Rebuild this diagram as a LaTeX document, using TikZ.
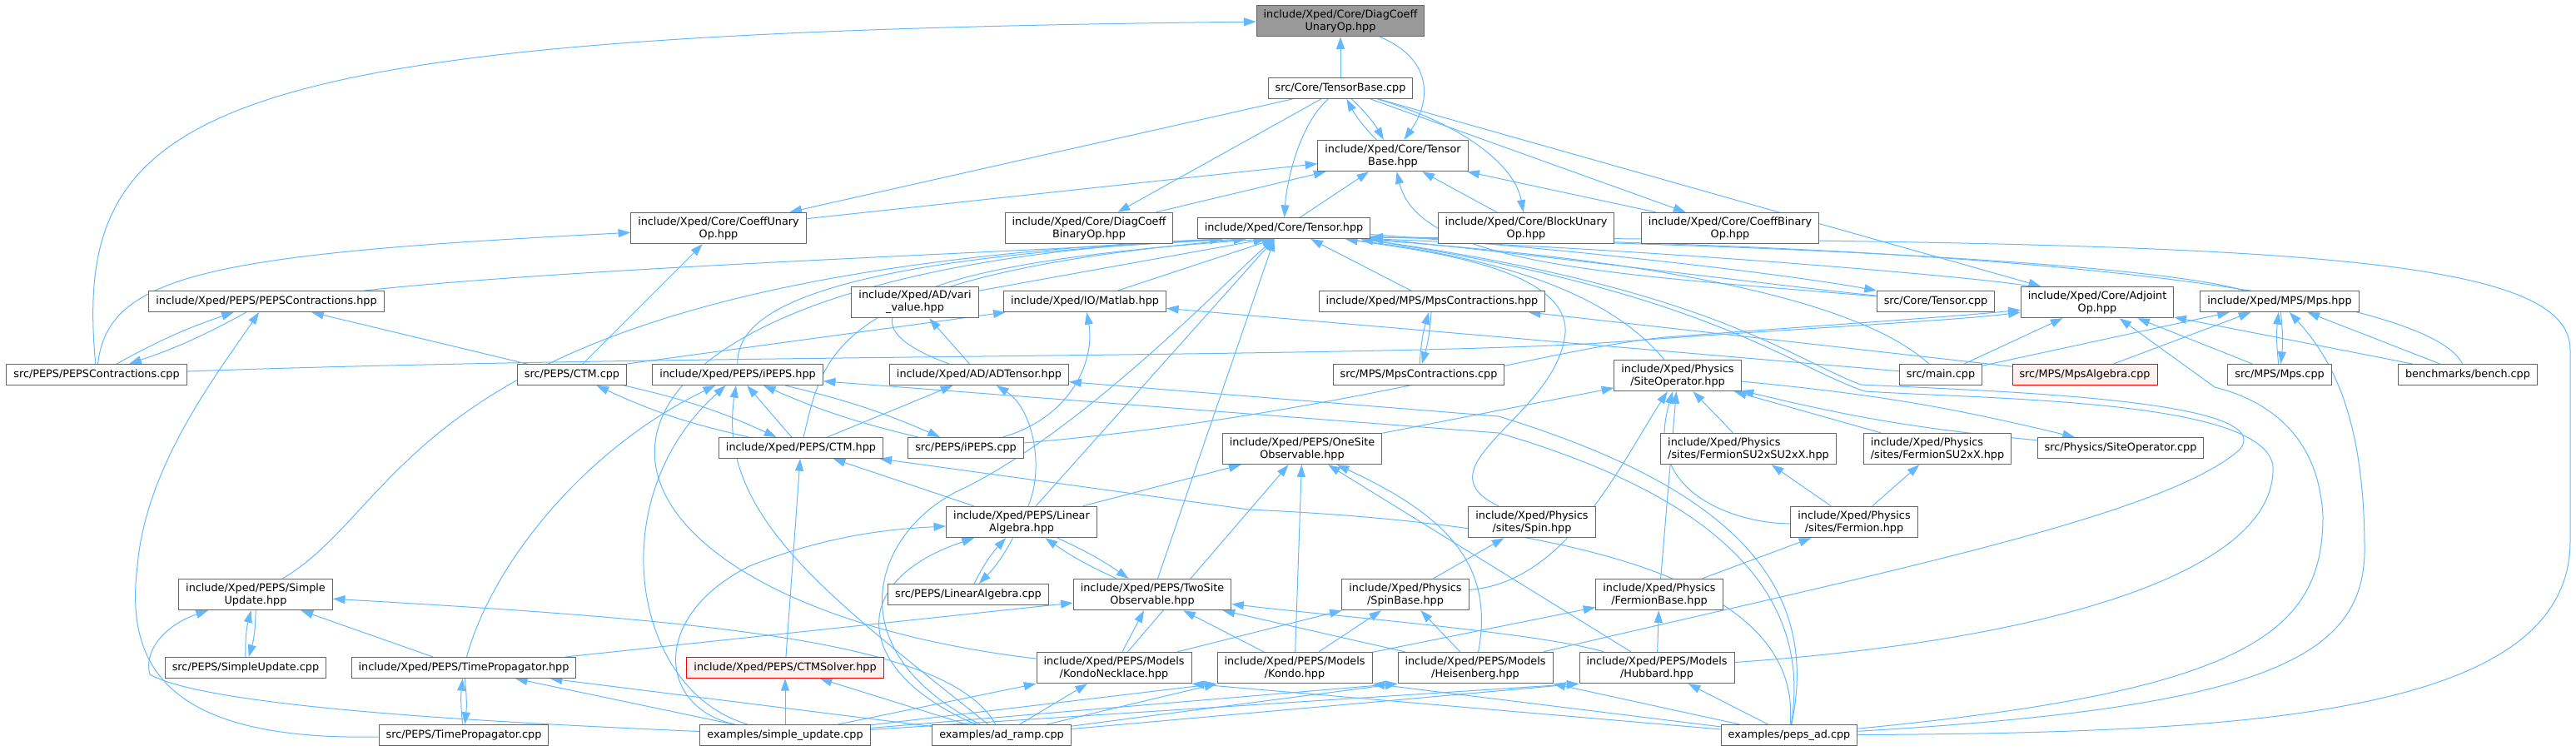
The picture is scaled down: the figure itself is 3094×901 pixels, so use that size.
\documentclass[tikz,border=0pt]{standalone}
\usepackage{fontspec}
\setmainfont{DejaVu Sans}
\usetikzlibrary{arrows.meta}
\definecolor{edgeblue}{HTML}{63B8FF}
\definecolor{boxline}{HTML}{666666}
\definecolor{rootgray}{HTML}{999999}
\definecolor{redline}{HTML}{FF0000}
\definecolor{redfill}{HTML}{FFF0F0}
\pgfdeclarelayer{bg}
\pgfsetlayers{bg,main}

\begin{document}
\begin{tikzpicture}[x=0.75pt, y=-0.75pt,
    filebox/.style={draw=boxline, fill=white, line width=0.75pt, inner xsep=6.4pt, inner ysep=3.75pt,
        minimum height=18.75pt, align=center, font=\fontsize{9.6}{11.25}\selectfont},
    rootbox/.style={filebox, fill=rootgray},
    redbox/.style={filebox, draw=redline, fill=redfill},
    incl/.style={draw=edgeblue, line width=0.75pt, -{Triangle[length=11pt,width=7.5pt]}}]
    \useasboundingbox (0,0) rectangle (3094,901);

    % Core
    \node[rootbox] (root) at (1610,25) {include/Xped/Core/DiagCoeff\\UnaryOp.hpp};
    \node[filebox] (tbcpp) at (1610,106) {src/Core/TensorBase.cpp};
    \node[filebox] (tbhpp) at (1673,187) {include/Xped/Core/Tensor\\Base.hpp};
    \node[filebox] (tensor) at (1542,274) {include/Xped/Core/Tensor.hpp};
    \node[filebox] (cuop) at (863,274) {include/Xped/Core/CoeffUnary\\Op.hpp};
    \node[filebox] (dcbop) at (1308,274) {include/Xped/Core/DiagCoeff\\BinaryOp.hpp};
    \node[filebox] (buop) at (1833,274) {include/Xped/Core/BlockUnary\\Op.hpp};
    \node[filebox] (cbop) at (2078,274) {include/Xped/Core/CoeffBinary\\Op.hpp};
    \node[filebox] (tensorCpp) at (2325,362) {src/Core/Tensor.cpp};
    \node[filebox] (adjoint) at (2519,363) {include/Xped/Core/Adjoint\\Op.hpp};

    % PEPS, AD and IO
    \node[filebox] (pcHpp) at (320,362) {include/Xped/PEPS/PEPSContractions.hpp};
    \node[filebox] (pcCpp) at (116,450) {src/PEPS/PEPSContractions.cpp};
    \node[filebox] (ctmCpp) at (687,450) {src/PEPS/CTM.cpp};
    \node[filebox] (vari) at (1099,363) {include/Xped/AD/vari\\\_value.hpp};
    \node[filebox] (matlab) at (1303,362) {include/Xped/IO/Matlab.hpp};
    \node[filebox] (ipepsHpp) at (886,450) {include/Xped/PEPS/iPEPS.hpp};
    \node[filebox] (adtensor) at (1176,450) {include/Xped/AD/ADTensor.hpp};
    \node[filebox] (ctmHpp) at (962,538) {include/Xped/PEPS/CTM.hpp};
    \node[filebox] (ipepsCpp) at (1160,538) {src/PEPS/iPEPS.cpp};
    \node[filebox] (onesite) at (1564,539) {include/Xped/PEPS/OneSite\\Observable.hpp};
    \node[filebox] (linalg) at (1227,627) {include/Xped/PEPS/Linear\\Algebra.hpp};
    \node[filebox] (linalgCpp) at (1163,714) {src/PEPS/LinearAlgebra.cpp};
    \node[filebox] (twosite) at (1384,714) {include/Xped/PEPS/TwoSite\\Observable.hpp};
    \node[filebox] (suHpp) at (307,714) {include/Xped/PEPS/Simple\\Update.hpp};
    \node[filebox] (suCpp) at (295,802) {src/PEPS/SimpleUpdate.cpp};
    \node[filebox] (tpHpp) at (557,802) {include/Xped/PEPS/TimePropagator.hpp};
    \node[filebox] (tpCpp) at (557,883) {src/PEPS/TimePropagator.cpp};
    \node[redbox] (ctmsolver) at (943,802) {include/Xped/PEPS/CTMSolver.hpp};

    % MPS
    \node[filebox] (mpscHpp) at (1720,362) {include/Xped/MPS/MpsContractions.hpp};
    \node[filebox] (mpscCpp) at (1704,450) {src/MPS/MpsContractions.cpp};
    \node[filebox] (mpsHpp) at (2738,362) {include/Xped/MPS/Mps.hpp};
    \node[filebox] (main) at (2331,450) {src/main.cpp};
    \node[redbox] (mpsalg) at (2504,450) {src/MPS/MpsAlgebra.cpp};
    \node[filebox] (mpsCpp) at (2738,450) {src/MPS/Mps.cpp};
    \node[filebox] (bench) at (2964,450) {benchmarks/bench.cpp};

    % Physics
    \node[filebox] (siteop) at (2015,451) {include/Xped/Physics\\/SiteOperator.hpp};
    \node[filebox, align=left] (fsu2su2) at (2100,539) {include/Xped/Physics\\/sites/FermionSU2xSU2xX.hpp};
    \node[filebox, align=left] (fsu2) at (2327,539) {include/Xped/Physics\\/sites/FermionSU2xX.hpp};
    \node[filebox] (siteopCpp) at (2547,538) {src/Physics/SiteOperator.cpp};
    \node[filebox] (spin) at (1840,627) {include/Xped/Physics\\/sites/Spin.hpp};
    \node[filebox] (fermion) at (2227,627) {include/Xped/Physics\\/sites/Fermion.hpp};
    \node[filebox] (spinbase) at (1688,714) {include/Xped/Physics\\/SpinBase.hpp};
    \node[filebox] (fermbase) at (1993,714) {include/Xped/Physics\\/FermionBase.hpp};

    % Models and examples
    \node[filebox] (kondoN) at (1338,802) {include/Xped/PEPS/Models\\/KondoNecklace.hpp};
    \node[filebox] (kondo) at (1555,802) {include/Xped/PEPS/Models\\/Kondo.hpp};
    \node[filebox] (heis) at (1772,802) {include/Xped/PEPS/Models\\/Heisenberg.hpp};
    \node[filebox] (hubbard) at (1990,802) {include/Xped/PEPS/Models\\/Hubbard.hpp};
    \node[filebox] (exSU) at (943,883) {examples/simple\_update.cpp};
    \node[filebox] (exAD) at (1203,883) {examples/ad\_ramp.cpp};
    \node[filebox] (exPA) at (2149,883) {examples/peps\_ad.cpp};

    \begin{pgfonlayer}{bg}
    % TensorBase
    \draw[incl] (tbcpp) -- (root);
    \draw[incl] (root) .. controls (1720,70) and (1720,120) .. (tbhpp);
    \draw[incl] (pcCpp) .. controls (85,120) and (250,40) .. (root);
    \draw[incl] (tbcpp) to[bend left=8] (tbhpp);
    \draw[incl] (tbhpp) to[bend left=8] (tbcpp);
    \draw[incl] (tbcpp) -- (cuop);
    \draw[incl] (tbcpp) -- (dcbop);
    \draw[incl] (tbcpp) .. controls (1560,150) and (1545,220) .. (tensor);
    \draw[incl] (tbcpp) .. controls (1760,150) and (1820,200) .. (buop);
    \draw[incl] (tbcpp) -- (cbop);
    \draw[incl] (tbcpp) -- (adjoint);
    \draw[incl] (cuop) -- (tbhpp);
    \draw[incl] (dcbop) -- (tbhpp);
    \draw[incl] (tensor) -- (tbhpp);
    \draw[incl] (buop) -- (tbhpp);
    \draw[incl] (cbop) -- (tbhpp);
    \draw[incl] (tensorCpp) .. controls (1950,330) and (1705,320) .. (tbhpp);
    \draw[incl] (pcCpp) .. controls (130,330) and (250,305) .. (cuop);
    \draw[incl] (ctmCpp) -- (cuop);

    % Tensor, entered at its lower edge
    \draw[incl] (tensor) .. controls (1900,300) and (2150,330) .. (tensorCpp);
    \draw[incl] (tensorCpp) .. controls (2150,345) and (1800,300) .. (tensor.-7.3);
    \draw[incl] (pcHpp) .. controls (700,320) and (1300,300) .. (tensor.-170);
    \draw[incl] (suHpp) .. controls (500,600) and (490,330) .. (tensor.-170);
    \draw[incl] (kondoN) .. controls (640,720) and (560,330) .. (tensor.-170);
    \draw[incl] (ipepsHpp) .. controls (885,380) and (960,310) .. (tensor.-164.1);
    \draw[incl] (ctmHpp) .. controls (990,420) and (1000,330) .. (tensor.-164.1);
    \draw[incl] (adtensor) .. controls (1010,390) and (1030,320) .. (tensor.-149.2);
    \draw[incl] (vari) -- (tensor.-149.2);
    \draw[incl] (matlab) -- (tensor.-131.3);
    \draw[incl] (linalg) -- (tensor.-131.3);
    \draw[incl] (twosite) -- (tensor.-131.3);
    \draw[incl] (mpscHpp) -- (tensor.-22.6);
    \draw[incl] (siteop) .. controls (1930,350) and (1800,310) .. (tensor.-10.4);
    \draw[incl] (spin) .. controls (1700,560) and (1870,500) .. (1880,400) .. controls (1885,320) and (1700,300) .. (tensor.-10.4);
    \draw[incl] (main) .. controls (2200,330) and (1800,300) .. (tensor.-8.4);
    \draw[incl] (adjoint) .. controls (2400,335) and (2000,300) .. (tensor.-7.3);
    \draw[incl] (mpsHpp) .. controls (2600,320) and (2200,295) .. (tensor.-6.8);
    \draw[incl] (bench) .. controls (2920,360) and (2500,295) .. (tensor.-6.8);
    \draw[incl] (exPA) .. controls (2700,880) and (3087,860) .. (3087,650) -- (3087,420) .. controls (3087,300) and (2700,290) .. (tensor.-6.8);
    \draw[incl] (exAD) .. controls (1000,780) and (1050,640) .. (1150,590) .. controls (1300,520) and (1480,330) .. (tensor.-131.3);
    \draw[incl] (hubbard) .. controls (2450,770) and (2735,690) .. (2730,560) .. controls (2720,480) and (2400,480) .. (2240,470) .. controls (2150,440) and (2050,350) .. (tensor.-8.4);
    \draw[incl] (heis) .. controls (2250,690) and (2600,620) .. (2690,540) .. controls (2740,480) and (2400,470) .. (2235,462) .. controls (2150,430) and (2050,345) .. (tensor.-8.4);

    % PEPS
    \draw[incl] (pcHpp) to[bend left=5] (pcCpp);
    \draw[incl] (pcCpp) to[bend left=5] (pcHpp);
    \draw[incl] (ctmCpp) -- (pcHpp);
    \draw[incl] (tpCpp) .. controls (200,890) and (150,800) .. (165,680) .. controls (175,560) and (260,450) .. (pcHpp);
    \draw[incl] (pcCpp) .. controls (800,425) and (1700,430) .. (1950,410) .. controls (2150,395) and (2350,385) .. (adjoint);
    \draw[incl] (ctmCpp.north east) -- (matlab);
    \draw[incl] (ctmCpp) to[bend left=6] (ctmHpp);
    \draw[incl] (ctmHpp) to[bend left=6] (ctmCpp);
    \draw[incl] (ipepsCpp) to[bend left=5] (ipepsHpp);
    \draw[incl] (ipepsHpp) to[bend left=5] (ipepsCpp);
    \draw[incl] (ctmHpp) -- (ipepsHpp);
    \draw[incl] (tpHpp) .. controls (590,680) and (700,540) .. (ipepsHpp);
    \draw[incl] (exSU) .. controls (760,830) and (720,600) .. (ipepsHpp);
    \draw[incl] (exAD) .. controls (1000,720) and (860,620) .. (ipepsHpp);
    \draw[incl] (exPA) .. controls (2180,700) and (2040,590) .. (1800,520) -- (ipepsHpp);
    \draw[incl] (exPA) .. controls (2190,690) and (2060,580) .. (1800,500) -- (adtensor);
    \draw[incl] (adtensor) -- (vari);
    \draw[incl] (ctmHpp) -- (adtensor);
    \draw[incl] (linalg) .. controls (1255,560) and (1240,490) .. (adtensor);
    \draw[incl] (exPA) .. controls (2165,700) and (1900,630) .. (1500,612) -- (ctmHpp);
    \draw[incl] (ipepsCpp) .. controls (1290,500) and (1315,430) .. (matlab);
    \draw[incl] (main) -- (matlab);
    \draw[incl] (ipepsCpp) .. controls (1600,500) and (1850,420) .. (2000,405) .. controls (2200,390) and (2350,380) .. (adjoint);
    \draw[incl] (linalg) -- (ctmHpp);
    \draw[incl] (ctmsolver) -- (ctmHpp);
    \draw[incl] (linalg) -- (onesite);

    % MPS
    \draw[incl] (mpscHpp) to[bend left=6] (mpscCpp);
    \draw[incl] (mpscCpp) to[bend left=6] (mpscHpp);
    \draw[incl] (mpsalg) -- (mpscHpp);
    \draw[incl] (main) -- (adjoint);
    \draw[incl] (mpsCpp) -- (adjoint);
    \draw[incl] (exPA) .. controls (2700,830) and (2790,760) .. (2790,620) .. controls (2785,520) and (2720,480) .. (2660,465) -- (adjoint);
    \draw[incl] (bench) -- (adjoint);
    \draw[incl] (main) -- (mpsHpp);
    \draw[incl] (mpsalg) -- (mpsHpp);
    \draw[incl] (mpsCpp) to[bend left=6] (mpsHpp);
    \draw[incl] (mpsHpp) to[bend left=6] (mpsCpp);
    \draw[incl] (exPA) .. controls (2720,850) and (2840,790) .. (2840,660) .. controls (2840,500) and (2800,430) .. (mpsHpp);
    \draw[incl] (bench) -- (mpsHpp);

    % Physics
    \draw[incl] (onesite) -- (siteop);
    \draw[incl] (spinbase) .. controls (1880,700) and (1945,560) .. (siteop);
    \draw[incl] (fermbase) -- (siteop);
    \draw[incl] (fsu2su2) -- (siteop);
    \draw[incl] (fsu2) -- (siteop);
    \draw[incl] (fermion) .. controls (2100,630) and (1970,600) .. (siteop);
    \draw[incl] (siteop) to[bend left=4] (siteopCpp);
    \draw[incl] (siteopCpp) to[bend left=4] (siteop);
    \draw[incl] (fermion) -- (fsu2su2);
    \draw[incl] (fermion) -- (fsu2);
    \draw[incl] (fermbase) -- (fermion);
    \draw[incl] (spinbase) -- (spin);
    \draw[incl] (kondo) -- (spinbase);
    \draw[incl] (heis) -- (spinbase);
    \draw[incl] (kondoN) -- (spinbase);
    \draw[incl] (hubbard) -- (fermbase);
    \draw[incl] (kondo) -- (fermbase);

    % Observables and linear algebra
    \draw[incl] (linalgCpp) to[bend left=8] (linalg);
    \draw[incl] (linalg) to[bend left=8] (linalgCpp);
    \draw[incl] (twosite) to[bend left=5] (linalg);
    \draw[incl] (linalg) to[bend left=5] (twosite);
    \draw[incl] (exSU) .. controls (790,850) and (780,740) .. (900,680) .. controls (1000,640) and (1080,635) .. (linalg);
    \draw[incl] (exAD) .. controls (1030,810) and (1010,700) .. (linalg);
    \draw[incl] (tpHpp) -- (twosite);
    \draw[incl] (kondoN) -- (twosite);
    \draw[incl] (kondo) -- (twosite);
    \draw[incl] (heis) -- (twosite);
    \draw[incl] (hubbard) .. controls (1850,760) and (1600,740) .. (twosite);
    \draw[incl] (kondoN) -- (onesite);
    \draw[incl] (kondo) -- (onesite);
    \draw[incl] (heis) .. controls (1795,680) and (1740,620) .. (onesite);
    \draw[incl] (hubbard) -- (onesite);

    % Simple update and time propagator
    \draw[incl] (suHpp) to[bend left=8] (suCpp);
    \draw[incl] (suCpp) to[bend left=8] (suHpp);
    \draw[incl] (tpHpp) -- (suHpp);
    \draw[incl] (exSU) .. controls (600,868) and (250,850) .. (180,810) .. controls (172,780) and (200,750) .. (suHpp);
    \draw[incl] (exAD) .. controls (1140,770) and (850,745) .. (suHpp);
    \draw[incl] (tpHpp) to[bend left=6] (tpCpp);
    \draw[incl] (tpCpp) to[bend left=6] (tpHpp);
    \draw[incl] (exSU) -- (tpHpp);
    \draw[incl] (exAD) -- (tpHpp);
    \draw[incl] (exSU) -- (ctmsolver);
    \draw[incl] (exAD) -- (ctmsolver);

    % Models used by the examples
    \draw[incl] (exSU) -- (kondoN);
    \draw[incl] (exAD) -- (kondoN);
    \draw[incl] (exPA) -- (kondoN.south east);
    \draw[incl] (exSU) -- (kondo.south west);
    \draw[incl] (exAD) -- (kondo.south west);
    \draw[incl] (exPA) -- (kondo.south east);
    \draw[incl] (exSU) -- (heis.south west);
    \draw[incl] (exAD) -- (heis.south west);
    \draw[incl] (exPA) -- (heis.south east);
    \draw[incl] (exSU) -- (hubbard.south west);
    \draw[incl] (exAD) -- (hubbard.south west);
    \draw[incl] (exPA) -- (hubbard);
    \end{pgfonlayer}
\end{tikzpicture}
\end{document}
